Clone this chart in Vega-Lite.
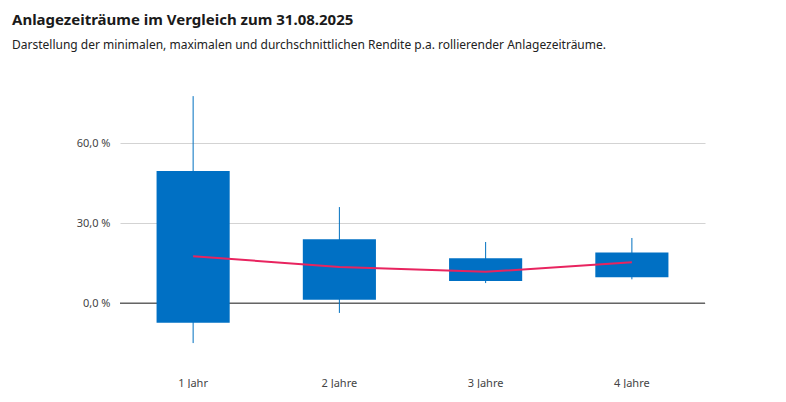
{
  "$schema": "https://vega.github.io/schema/vega-lite/v6.json",
  "width": 585,
  "height": 256,
  "padding": {"left": 12, "top": 13, "right": 81, "bottom": 0},
  "background": "#ffffff",
  "title": {
    "text": "Anlagezeiträume im Vergleich zum 31.08.2025",
    "subtitle": "Darstellung der minimalen, maximalen und durchschnittlichen Rendite p.a. rollierender Anlagezeiträume.",
    "anchor": "start",
    "frame": "bounds",
    "font": "Noto Sans",
    "fontSize": 15,
    "fontWeight": "bold",
    "color": "#1a1a1a",
    "subtitleFont": "Noto Sans",
    "subtitleFontSize": 12,
    "subtitleColor": "#222222",
    "subtitlePadding": 12,
    "offset": 39
  },
  "data": {
    "values": [
      {"period": "1 Jahr", "min": -14.9, "q1": -7.3, "q3": 49.6, "max": 77.7, "mean": 17.7},
      {"period": "2 Jahre", "min": -3.6, "q1": 1.3, "q3": 24.0, "max": 36.1, "mean": 13.6},
      {"period": "3 Jahre", "min": 7.6, "q1": 8.4, "q3": 16.9, "max": 23.0, "mean": 11.8},
      {"period": "4 Jahre", "min": 9.0, "q1": 9.8, "q3": 19.1, "max": 24.5, "mean": 15.4}
    ]
  },
  "encoding": {
    "x": {
      "field": "period",
      "type": "nominal",
      "sort": null,
      "title": null,
      "scale": {"paddingInner": 0, "paddingOuter": 0},
      "axis": {
        "domain": false,
        "ticks": false,
        "labelAngle": 0,
        "labelPadding": 31,
        "labelFont": "Noto Sans",
        "labelFontSize": 11,
        "labelColor": "#444444"
      }
    }
  },
  "layer": [
    {
      "mark": {"type": "rule", "color": "#666666", "strokeWidth": 1},
      "encoding": {
        "y": {"datum": 0, "type": "quantitative", "scale": {"domain": [-16, 80], "nice": false, "zero": false},
          "axis": {
            "title": null,
            "values": [0, 30, 60],
            "domain": false,
            "ticks": false,
            "grid": true,
            "gridColor": "#d3d3d3",
            "labelExpr": "replace(format(datum.value, '.1f'), '.', ',') + ' %'",
            "labelPadding": 10,
            "minExtent": 108,
            "labelFont": "Noto Sans",
            "labelFontSize": 11,
            "labelColor": "#444444"
          }
        },
        "x": {}
      }
    },
    {
      "mark": {"type": "rule", "color": "#0070c0", "strokeWidth": 1},
      "encoding": {
        "y": {"field": "min", "type": "quantitative"},
        "y2": {"field": "max"}
      }
    },
    {
      "mark": {"type": "bar", "color": "#0070c4", "width": {"band": 0.5}},
      "encoding": {
        "y": {"field": "q1", "type": "quantitative"},
        "y2": {"field": "q3"}
      }
    },
    {
      "mark": {"type": "line", "color": "#e8245f", "strokeWidth": 2},
      "encoding": {
        "y": {"field": "mean", "type": "quantitative"}
      }
    }
  ],
  "config": {"view": {"stroke": null}}
}
